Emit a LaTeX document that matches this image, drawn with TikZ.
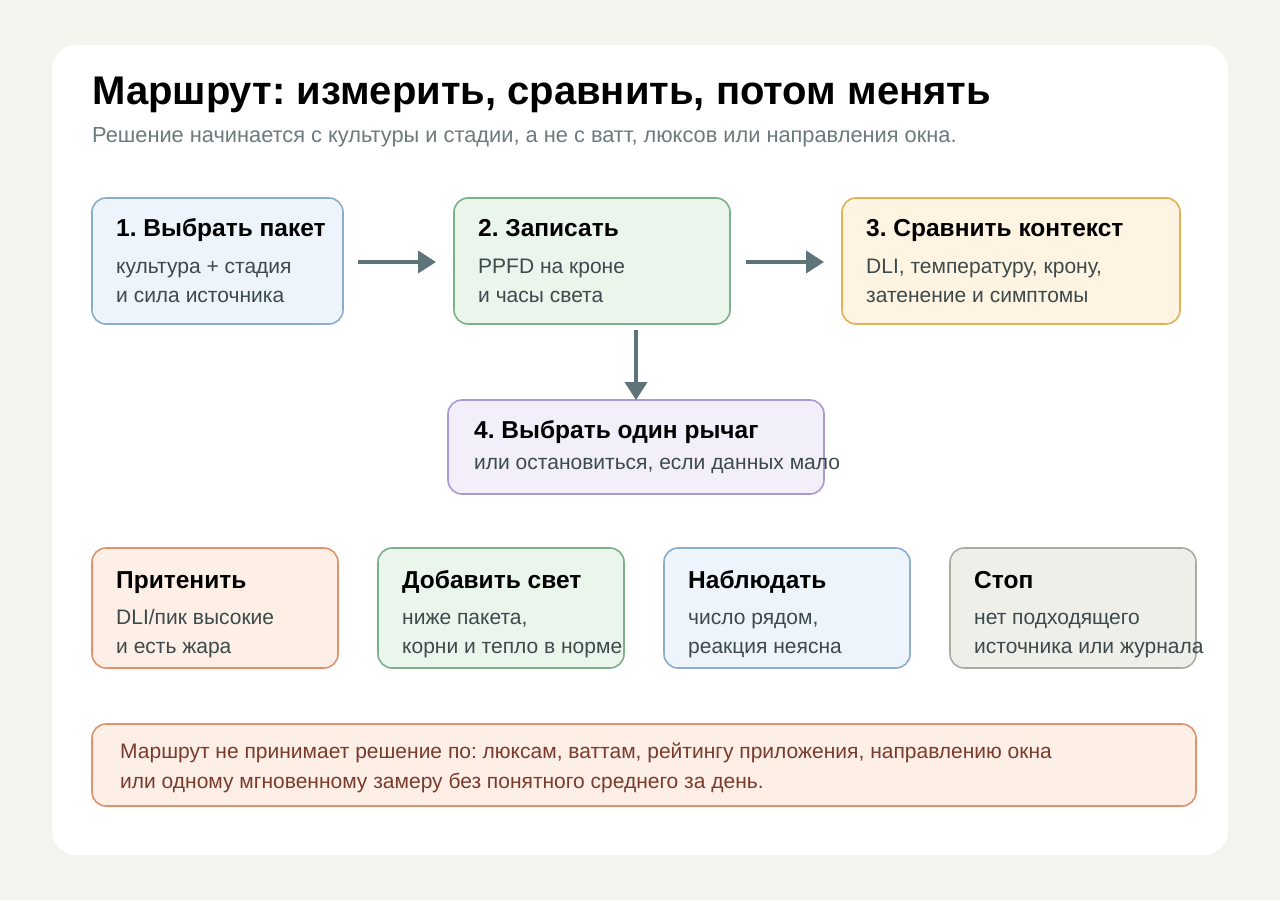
\documentclass[tikz,border=0pt]{standalone}
\usepackage{fontspec}
\setmainfont{Liberation Sans}
\usetikzlibrary{arrows.meta}
\frenchspacing
\definecolor{bg}{HTML}{F4F4EF}
\definecolor{ink}{HTML}{3C4A4C}
\definecolor{sub}{HTML}{6B7B7D}
\definecolor{arr}{HTML}{5E7478}
\definecolor{bF}{HTML}{EDF4FB}\definecolor{bS}{HTML}{8CADC9}
\definecolor{gF}{HTML}{EAF5EC}\definecolor{gS}{HTML}{7DB08A}
\definecolor{yF}{HTML}{FEF4E1}\definecolor{yS}{HTML}{E2B155}
\definecolor{pF}{HTML}{F2EEFA}\definecolor{pS}{HTML}{A999D2}
\definecolor{oF}{HTML}{FDEEE6}\definecolor{oS}{HTML}{E2916F}
\definecolor{kF}{HTML}{EFEFEA}\definecolor{kS}{HTML}{ABABA6}
\definecolor{note}{HTML}{7A3B2E}
\begin{document}
\begin{tikzpicture}[x=1pt,y=-1pt,
 box/.style={rounded corners=14pt,line width=1.6pt},
 ttl/.style={anchor=base west,font=\fontsize{24.5}{28}\selectfont\bfseries,text=black,inner sep=0},
 txt/.style={anchor=base west,font=\fontsize{21}{25}\selectfont,text=ink,inner sep=0},
 ar/.style={draw=arr,line width=4pt,-{Triangle[length=18pt,width=22pt]}}]
\useasboundingbox (0,0) rectangle (1280,900);
\fill[bg] (0,0) rectangle (1280,900);
\fill[white,rounded corners=24pt] (52,45) rectangle (1228,855);
\node[anchor=base west,inner sep=0,font=\fontsize{40}{44}\selectfont\bfseries] (title) at (92,104) {Маршрут: измерить, сравнить, потом менять};
\node[anchor=base west,inner sep=0,font=\fontsize{21.8}{25}\selectfont,text=sub] (subt) at (92,142) {Решение начинается с культуры и стадии, а не с ватт, люксов или направления окна.};
% row 1
\draw[box,fill=bF,draw=bS] (92,198) rectangle (343,324);
\draw[box,fill=gF,draw=gS] (454,198) rectangle (730,324);
\draw[box,fill=yF,draw=yS] (842,198) rectangle (1180,324);
\draw[box,fill=pF,draw=pS] (448,400) rectangle (824,494);
\node[ttl] (t1) at (116,236) {1. Выбрать пакет};
\node[txt] (l11) at (116,273) {культура + стадия};
\node[txt] (l12) at (116,302) {и сила источника};
\node[ttl] (t2) at (478,236) {2. Записать};
\node[txt] (l21) at (478,273) {PPFD на кроне};
\node[txt] (l22) at (478,302) {и часы света};
\node[ttl] (t3) at (866,236) {3. Сравнить контекст};
\node[txt] (l31) at (866,273) {DLI, температуру, крону,};
\node[txt] (l32) at (866,302) {затенение и симптомы};
\node[ttl] (t4) at (474,438) {4. Выбрать один рычаг};
\node[txt] (l41) at (474,469) {или остановиться, если данных мало};
\coordinate (a1s) at (358,262); \coordinate (a1e) at (436,262);
\coordinate (a2s) at (746,262); \coordinate (a2e) at (824,262);
\coordinate (a3s) at (636,330); \coordinate (a3e) at (636,400);
\draw[ar] (a1s) -- (a1e);
\draw[ar] (a2s) -- (a2e);
\draw[ar] (a3s) -- (a3e);
% row 2
\draw[box,fill=oF,draw=oS] (92,548) rectangle (338,668);
\draw[box,fill=gF,draw=gS] (378,548) rectangle (624,668);
\draw[box,fill=bF,draw=bS] (664,548) rectangle (910,668);
\draw[box,fill=kF,draw=kS] (950,548) rectangle (1196,668);
\node[ttl] (c1) at (116,588) {Притенить};
\node[txt] (c11) at (116,624) {DLI/пик высокие};
\node[txt] (c12) at (116,653) {и есть жара};
\node[ttl] (c2) at (402,588) {Добавить свет};
\node[txt] (c21) at (402,624) {ниже пакета,};
\node[txt] (c22) at (402,653) {корни и тепло в норме};
\node[ttl] (c3) at (688,588) {Наблюдать};
\node[txt] (c31) at (688,624) {число рядом,};
\node[txt] (c32) at (688,653) {реакция неясна};
\node[ttl] (c4) at (974,588) {Стоп};
\node[txt] (c41) at (974,624) {нет подходящего};
\node[txt] (c42) at (974,653) {источника или журнала};
% note
\draw[box,fill=oF,draw=oS] (92,724) rectangle (1196,806);
\node[txt,text=note] (n1) at (120,758) {Маршрут не принимает решение по: люксам, ваттам, рейтингу приложения, направлению окна};
\node[txt,text=note] (n2) at (120,788) {или одному мгновенному замеру без понятного среднего за день.};
\end{tikzpicture}
\end{document}
